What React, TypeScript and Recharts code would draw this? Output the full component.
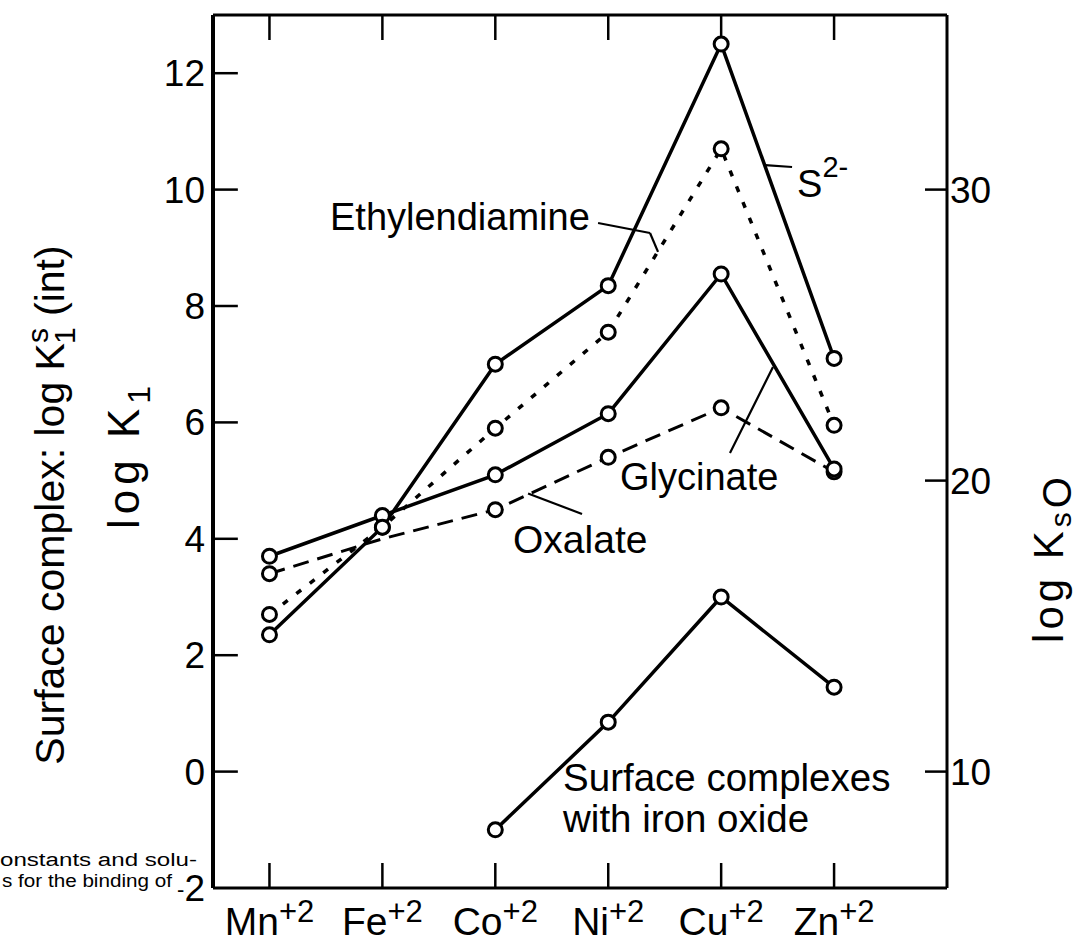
import React from 'react';
import { LineChart, Line, XAxis, YAxis, ReferenceLine, ReferenceDot } from 'recharts';

const FONT = "'Liberation Sans', Arial, Helvetica, sans-serif";

// ---- data ----
const ions = ['Mn', 'Fe', 'Co', 'Ni', 'Cu', 'Zn'];
const ionCharge = '+2';
const ionPos = [1, 2, 3, 4, 5, 6];
// S2- : log Kso, right axis
const sulfideLogKso = [14.7, 18.4, 24.0, 26.7, 35.0, 24.2];
// left axis: log K1
const ethylenediamineLogK1 = [2.7, 4.2, 5.9, 7.55, 10.7, 5.95];
const glycinateLogK1 = [3.7, 4.4, 5.1, 6.15, 8.55, 5.2];
const oxalateLogK1 = [3.4, 4.0, 4.5, 5.4, 6.25, 5.15];
const surfaceLogK1 = [null, null, -1.0, 0.85, 3.0, 1.45];

const leftTicks = [-2, 0, 2, 4, 6, 8, 10, 12];
const rightTicks = [10, 20, 30];
const leftDomain = [-2, 13];
const rightDomain = [6, 36];
const xDomain = [0.5, 7];

// inward tick-mark lengths, in axis units (~25 px)
const xTickLen = 0.22;
const yTickLen = 0.43;

// annotations (data coordinates, left axis)
const annotTexts = [
  { x: 1.536, y: 9.306, text: 'Ethylendiamine', size: 38 },
  { x: 4.104, y: 4.838, text: 'Glycinate', size: 38 },
  { x: 3.157, y: 3.756, text: 'Oxalate', size: 39 },
  { x: 3.6, y: -0.34, text: 'Surface complexes', size: 38.5 },
  { x: 3.6, y: -1.03, text: 'with iron oxide', size: 38.5 },
];
const sulfideLabel = { x: 5.672, y: 9.873, text: 'S', sup: '2-', size: 38 };
const leaders = [
  [{ x: 3.91, y: 9.426 }, { x: 4.37, y: 9.254 }],
  [{ x: 4.37, y: 9.254 }, { x: 4.441, y: 8.93 }],
  [{ x: 5.389, y: 10.42 }, { x: 5.628, y: 10.388 }],
  [{ x: 5.078, y: 5.474 }, { x: 5.459, y: 6.95 }],
  [{ x: 3.29, y: 4.78 }, { x: 3.768, y: 4.426 }],
];

const axisLine = { stroke: '#000', strokeWidth: 3 };

const IonTick = (p: any) => {
  const i = ionPos.indexOf(p.payload.value);
  return (
    <text x={p.x} y={p.y + 47} textAnchor="middle" fontFamily={FONT} fontSize={39} fill="#000">
      {ions[i]}
      <tspan dy={-13} fontSize={31}>{ionCharge}</tspan>
    </text>
  );
};

const NoTick = () => <g />;

const LeftTick = (p: any) => {
  const v = p.payload.value;
  return v < 0 ? (
    <text x={p.x - 8} y={p.y + 13} textAnchor="end" fontFamily={FONT} fontSize={37} fill="#000">
      <tspan fontSize={22} dy={-4}>-</tspan>
      <tspan dy={4}>{Math.abs(v)}</tspan>
    </text>
  ) : (
    <text x={p.x - 8} y={p.y + 13} textAnchor="end" fontFamily={FONT} fontSize={37} fill="#000">
      {v}
    </text>
  );
};

const RightTick = (p: any) => (
  <g>
    <line x1={p.x} x2={p.x - 22} y1={p.y} y2={p.y} stroke="#000" strokeWidth={2.5} />
    <text x={p.x + 3} y={p.y + 13} textAnchor="start" fontFamily={FONT} fontSize={37} fill="#000">
      {p.payload.value}
    </text>
  </g>
);

const LeftTitles = (props: any) => {
  const vb = props.viewBox || { x: 133, y: 15, width: 80, height: 873 };
  const sx = vb.x - 69;
  const sy = vb.y + 490;
  const lx = vb.x + 6;
  const ly = vb.y + 440;
  return (
    <g>
      <text x={sx} y={sy} transform={`rotate(-90 ${sx} ${sy})`} textAnchor="middle" fontFamily={FONT} fontSize={41} fill="#000">
        Surface complex: log K
        <tspan dy={-16} fontSize={30}>s</tspan>
        <tspan dx={-16} dy={27} fontSize={30}>1</tspan>
        <tspan dy={-11}> (int)</tspan>
      </text>
      <text x={lx} y={ly} transform={`rotate(-90 ${lx} ${ly})`} textAnchor="middle" fontFamily={FONT} fontSize={44} letterSpacing={5} fill="#000">
        log K
        <tspan dy={11} fontSize={32}>1</tspan>
      </text>
    </g>
  );
};

const RightTitle = (props: any) => {
  const vb = props.viewBox || { x: 947, y: 15, width: 80, height: 873 };
  const rx = vb.x + 116;
  const ry = vb.y + 543;
  return (
    <text x={rx} y={ry} transform={`rotate(-90 ${rx} ${ry})`} textAnchor="middle" fontFamily={FONT} fontSize={42} letterSpacing={4} fill="#000">
      log K
      <tspan dy={8} fontSize={30}>s</tspan>
      <tspan fontSize={40}>O</tspan>
    </text>
  );
};

const makeDot = (skip: number[] = []) => (props: any) => {
  const { cx, cy, index, value } = props;
  const k = `dot-${props.dataKey}-${index}`;
  if (cx == null || cy == null || value == null || skip.includes(index)) return <g key={k} />;
  return <circle key={k} cx={cx} cy={cy} r={7} fill="#fff" stroke="#000" strokeWidth={3} />;
};

const makeAnnot = (text: string, size: number, sup?: string) => (props: any) => {
  const vb = props.viewBox || {};
  const x = vb.x ?? props.x;
  const y = vb.y ?? props.y;
  return (
    <text x={x} y={y} textAnchor="start" fontFamily={FONT} fontSize={size} fill="#000">
      {text}
      {sup ? <tspan dy={-20} fontSize={29}>{sup}</tspan> : null}
    </text>
  );
};

export default function App() {
  const data = ionPos.map((pos, i) => ({
    pos,
    sulfide: sulfideLogKso[i],
    en: ethylenediamineLogK1[i],
    gly: glycinateLogK1[i],
    ox: oxalateLogK1[i],
    surf: surfaceLogK1[i],
  }));
  const [x0] = xDomain;
  const [y0, y1] = leftDomain;

  return (
    <div style={{ position: 'absolute', left: 0, top: 0, width: 1083, height: 946, background: '#fff' }}>
      <LineChart width={1083} height={946} data={data} margin={{ top: 14, right: 56, bottom: 8, left: 133 }}>
        <XAxis
          xAxisId="bottom"
          type="number"
          dataKey="pos"
          domain={xDomain}
          ticks={ionPos}
          interval={0}
          height={50}
          axisLine={axisLine}
          tickLine={false}
          tickSize={0}
          tickMargin={0}
          tick={<IonTick />}
          allowDataOverflow
        />
        <XAxis
          xAxisId="top"
          orientation="top"
          type="number"
          dataKey="pos"
          domain={xDomain}
          ticks={ionPos}
          interval={0}
          height={1}
          axisLine={axisLine}
          tickLine={false}
          tickSize={0}
          tick={<NoTick />}
          allowDataOverflow
        />
        <YAxis
          yAxisId="left"
          domain={leftDomain}
          ticks={leftTicks}
          interval={0}
          width={80}
          axisLine={{ stroke: '#000', strokeWidth: 4 }}
          tickLine={false}
          tickSize={0}
          tickMargin={0}
          tick={<LeftTick />}
          allowDataOverflow
          label={<LeftTitles />}
        />
        <YAxis
          yAxisId="right"
          orientation="right"
          domain={rightDomain}
          ticks={rightTicks}
          interval={0}
          width={80}
          axisLine={axisLine}
          tickLine={false}
          tickSize={0}
          tickMargin={0}
          tick={<RightTick />}
          allowDataOverflow
          label={<RightTitle />}
        />

        <Line xAxisId="bottom" yAxisId="left" dataKey="ox" stroke="#000" strokeWidth={3} strokeDasharray="16 9" dot={makeDot([1])} isAnimationActive={false} />
        <Line xAxisId="bottom" yAxisId="left" dataKey="en" stroke="#000" strokeWidth={3.5} strokeDasharray="6 11" dot={makeDot()} isAnimationActive={false} />
        <Line xAxisId="bottom" yAxisId="left" dataKey="gly" stroke="#000" strokeWidth={3.5} dot={makeDot()} isAnimationActive={false} />
        <Line xAxisId="bottom" yAxisId="right" dataKey="sulfide" stroke="#000" strokeWidth={3.5} dot={makeDot()} isAnimationActive={false} />
        <Line xAxisId="bottom" yAxisId="left" dataKey="surf" stroke="#000" strokeWidth={3.5} dot={makeDot()} isAnimationActive={false} />

        {leaders.map((seg, i) => (
          <ReferenceLine key={`ld-${i}`} xAxisId="bottom" yAxisId="left" segment={seg} stroke="#000" strokeWidth={2.2} ifOverflow="visible" />
        ))}
        {/* inward tick marks */}
        {leftTicks.filter((v) => v > y0).map((v) => (
          <ReferenceLine key={`lt-${v}`} xAxisId="bottom" yAxisId="left" segment={[{ x: x0, y: v }, { x: x0 + xTickLen, y: v }]} stroke="#000" strokeWidth={2.5} ifOverflow="visible" />
        ))}
        {ionPos.map((p) => (
          <ReferenceLine key={`bt-${p}`} xAxisId="bottom" yAxisId="left" segment={[{ x: p, y: y0 }, { x: p, y: y0 + yTickLen }]} stroke="#000" strokeWidth={2.5} ifOverflow="visible" />
        ))}
        {ionPos.map((p) => (
          <ReferenceLine key={`tt-${p}`} xAxisId="bottom" yAxisId="left" segment={[{ x: p, y: y1 }, { x: p, y: y1 - yTickLen }]} stroke="#000" strokeWidth={2.5} ifOverflow="visible" />
        ))}
        {annotTexts.map((a, i) => (
          <ReferenceDot key={`an-${i}`} xAxisId="bottom" yAxisId="left" x={a.x} y={a.y} r={0} fill="none" stroke="none" ifOverflow="visible" label={makeAnnot(a.text, a.size)} />
        ))}
        <ReferenceDot xAxisId="bottom" yAxisId="left" x={sulfideLabel.x} y={sulfideLabel.y} r={0} fill="none" stroke="none" ifOverflow="visible" label={makeAnnot(sulfideLabel.text, sulfideLabel.size, sulfideLabel.sup)} />
      </LineChart>
      <svg width={210} height={946} style={{ position: 'absolute', left: 0, top: 0, pointerEvents: 'none' }}>
        <text x={0} y={866} fontFamily={FONT} fontSize={18} textLength={197} lengthAdjust="spacingAndGlyphs" fill="#000">onstants and solu-</text>
        <text x={2} y={887} fontFamily={FONT} fontSize={18} textLength={170} lengthAdjust="spacingAndGlyphs" fill="#000">s for the binding of</text>
      </svg>
    </div>
  );
}
